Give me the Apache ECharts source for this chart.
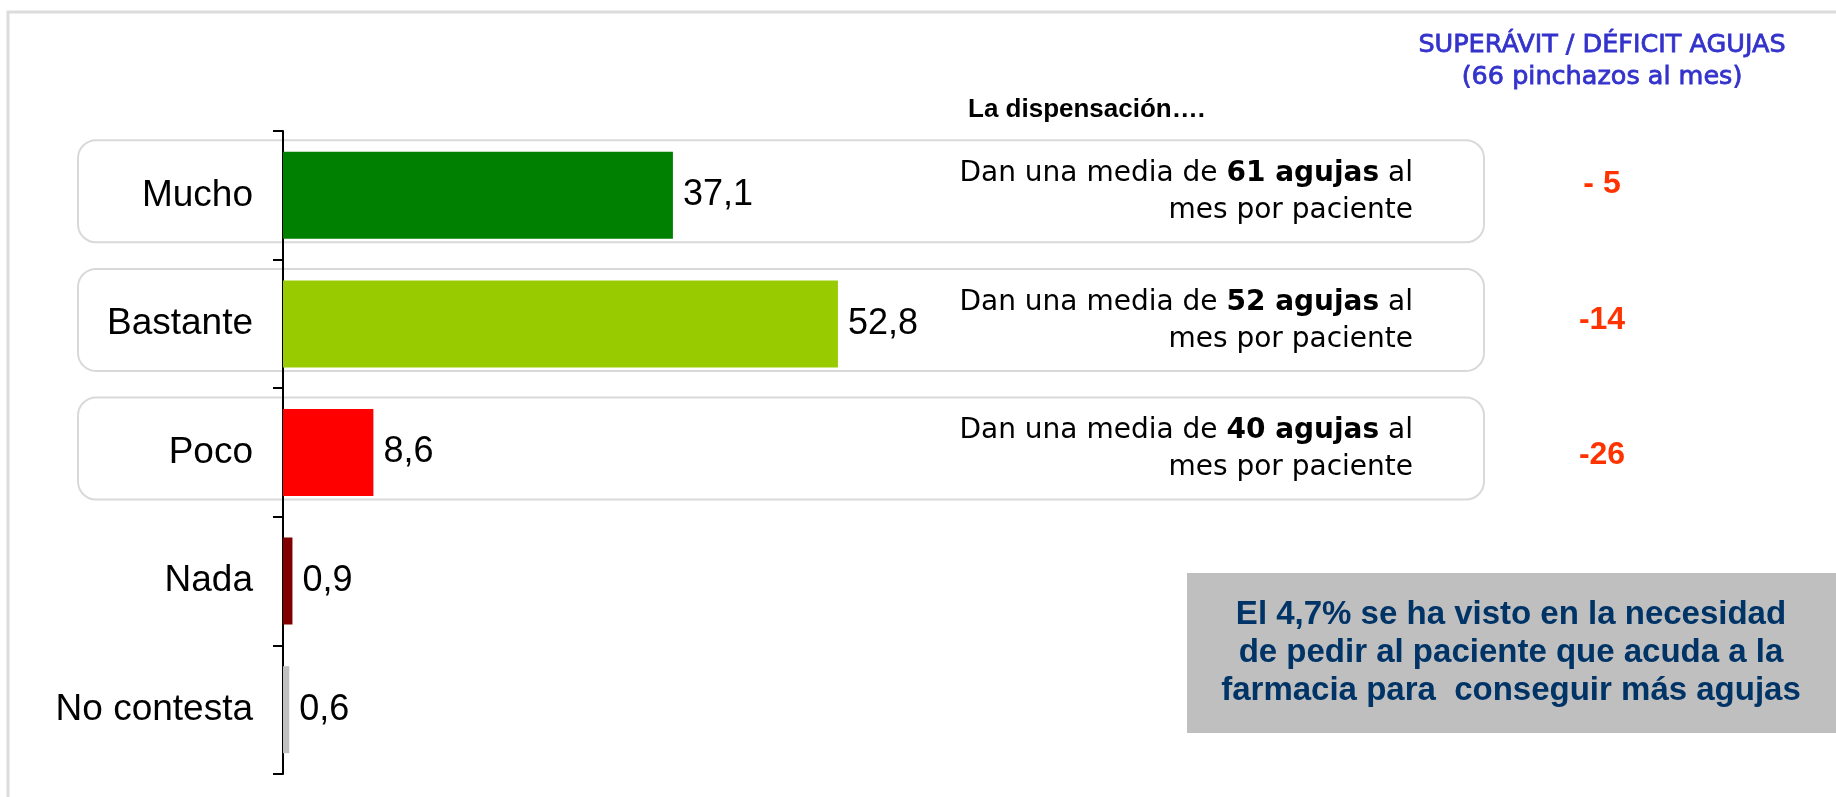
<!DOCTYPE html>
<html>
<head>
<meta charset="utf-8">
<script src="https://cdn.jsdelivr.net/npm/echarts@6/dist/echarts.min.js"></script>
<style>
  html, body { margin: 0; padding: 0; background: #fff; }
  #chart { width: 1836px; height: 797px; }
</style>
</head>
<body>
<div id="chart"></div>
<script>
// datos
var categories = ['Mucho', 'Bastante', 'Poco', 'Nada', 'No contesta'];
var values = [37.1, 52.8, 8.6, 0.9, 0.6];
var barColors = ['#008000', '#99cc00', '#ff0000', '#800000', '#c0c0c0'];
var mediaAgujas = [61, 52, 40];          // agujas al mes por paciente (Mucho, Bastante, Poco)
var deficit = ['- 5', '-14', '-26'];     // superávit / déficit frente a 66 pinchazos
var deficitY = [184, 320, 455];

var myChart = echarts.init(document.getElementById('chart'));

var barData = [];
for (var i = 0; i < values.length; i++) {
    barData.push({ value: values[i], itemStyle: { color: barColors[i] } });
}

var option = {
    animation: false,
    grid: { left: 283, width: 1051, top: 131, bottom: 23 },
    xAxis: {
        type: 'value', min: 0, max: 100, show: false
    },
    yAxis: {
        type: 'category',
        data: categories,
        inverse: true,
        axisLine: { show: true, lineStyle: { color: '#000', width: 2 } },
        axisTick: { show: true, length: 10, lineStyle: { color: '#000', width: 2 } },
        axisLabel: {
            color: '#000', fontSize: 37, margin: 30,
            fontFamily: 'Liberation Sans, Arial, sans-serif'
        }
    },
    series: [{
        type: 'bar',
        data: barData,
        barWidth: 87,
        z: 5,
        label: {
            show: true, position: 'right', distance: 10,
            color: '#000', fontSize: 36,
            fontFamily: 'Liberation Sans, Arial, sans-serif',
            formatter: function (p) { return String(p.value).replace('.', ','); }
        }
    }]
};
myChart.setOption(option);

// cajas, textos y marco
function buildGraphics() {
    var g = [];
    g.push({
        type: 'polyline', z: 0,
        shape: { points: [[8, 797], [8, 12], [1836, 12]] },
        style: { stroke: '#dcdcdc', lineWidth: 3, fill: 'none' }
    });
    for (var j = 0; j < mediaAgujas.length; j++) {
        var cy = myChart.convertToPixel({ yAxisIndex: 0 }, categories[j]);
        var boxTop = cy - 55;
        g.push({
            type: 'rect', z: 0,
            shape: { x: 78, y: boxTop, width: 1406, height: 102, r: 18 },
            style: { fill: '#fff', stroke: '#d9d9d9', lineWidth: 2 }
        });
        g.push({
            type: 'text', z: 1,
            style: {
                x: 1413, y: boxTop + 52,
                text: 'Dan una media de {b|' + mediaAgujas[j] + ' agujas} al\nmes por paciente',
                align: 'right', verticalAlign: 'middle',
                font: '28px "DejaVu Sans", sans-serif', lineHeight: 37, fill: '#000',
                rich: { b: { font: 'bold 28px "DejaVu Sans", sans-serif', lineHeight: 37, fill: '#000' } }
            }
        });
        g.push({
            type: 'text', z: 1,
            style: {
                x: 1602, y: deficitY[j], text: deficit[j],
                align: 'center', verticalAlign: 'middle',
                font: 'bold 32px "Liberation Sans", Arial, sans-serif', fill: '#ff3300'
            }
        });
    }
    g.push({
        type: 'text', z: 1,
        style: {
            x: 1602, y: 61, text: 'SUPERÁVIT / DÉFICIT AGUJAS\n(66 pinchazos al mes)',
            align: 'center', verticalAlign: 'middle',
            font: '25.5px "DejaVu Sans", sans-serif', lineHeight: 32,
            fill: '#3333cc', stroke: '#3333cc', lineWidth: 0.8
        }
    });
    g.push({
        type: 'text', z: 1,
        style: {
            x: 968, y: 110, text: 'La dispensación….',
            align: 'left', verticalAlign: 'middle',
            font: 'bold 26px "Liberation Sans", Arial, sans-serif', fill: '#000'
        }
    });
    g.push({
        type: 'rect', z: 0,
        shape: { x: 1187, y: 573, width: 660, height: 160 },
        style: { fill: '#bfbfbf' }
    });
    g.push({
        type: 'text', z: 1,
        style: {
            x: 1511, y: 653,
            text: 'El 4,7% se ha visto en la necesidad\nde pedir al paciente que acuda a la\nfarmacia para  conseguir más agujas',
            align: 'center', verticalAlign: 'middle',
            font: 'bold 33px "Liberation Sans", Arial, sans-serif', lineHeight: 38, fill: '#003366'
        }
    });
    return g;
}

myChart.setOption({ graphic: { elements: buildGraphics() } });
</script>
</body>
</html>
